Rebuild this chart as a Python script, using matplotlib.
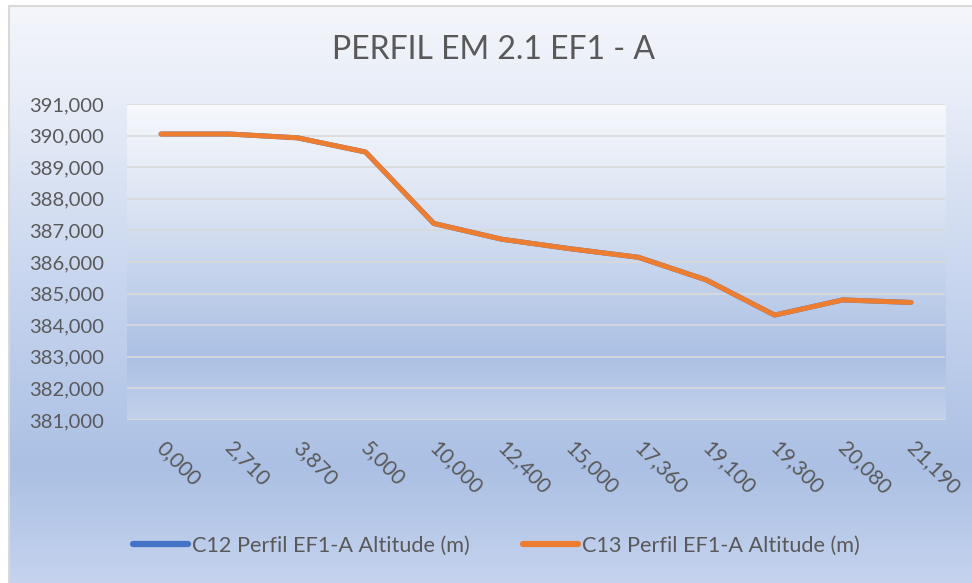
import matplotlib
matplotlib.use("Agg")
import matplotlib.pyplot as plt
import matplotlib.transforms as mtransforms
import numpy as np
from matplotlib.colors import to_rgb
from matplotlib.lines import Line2D

# distance labels along the profile (km, decimal comma) and altitudes (m)
distances = ["0,000", "2,710", "3,870", "5,000", "10,000", "12,400",
             "15,000", "17,360", "19,100", "19,300", "20,080", "21,190"]
alt_c12 = [390.05, 390.05, 389.93, 389.48, 387.22, 386.72,
           386.42, 386.15, 385.43, 384.32, 384.80, 384.72]
alt_c13 = [390.05, 390.05, 389.93, 389.48, 387.22, 386.72,
           386.42, 386.15, 385.43, 384.32, 384.80, 384.72]
y_ticks = [381, 382, 383, 384, 385, 386, 387, 388, 389, 390, 391]

TITLE = "PERFIL EM 2.1 EF1 - A"
LABEL_C12 = "C12 Perfil EF1-A Altitude (m)"
LABEL_C13 = "C13 Perfil EF1-A Altitude (m)"

BLUE = "#4472C4"
ORANGE = "#ED7D31"
TEXT = "#595959"
GRID = "#D9D9D9"

plt.rcParams["font.family"] = ["Lato", "DejaVu Sans"]

W, H = 972, 583


def gradient(stops, n=400):
    """Vertical gradient image (top -> bottom) from (pos, colour) stops."""
    pos = np.array([p for p, _ in stops])
    cols = np.array([to_rgb(c) for _, c in stops])
    t = np.linspace(0, 1, n)
    img = np.stack([np.interp(t, pos, cols[:, k]) for k in range(3)], axis=-1)
    return img[:, None, :]


fig = plt.figure(figsize=(W / 100, H / 100), dpi=100, facecolor="white")

# chart area background with gradient and thin border
bg = fig.add_axes([0, 0, 1, 1], zorder=0)
bg.axis("off")
outer = gradient([(0.0, "#F4F6FB"), (0.18, "#E6ECF7"), (0.5, "#C6D4EE"),
                  (0.8, "#ABC0E4"), (1.0, "#C5D3EE")])
bg.imshow(outer, extent=(8.5, W, H, 5.5), aspect="auto", interpolation="bilinear")
bg.plot([8.5, 8.5, W], [H, 5.5, 5.5], color=GRID, lw=1.5)
bg.set_xlim(0, W)
bg.set_ylim(H, 0)

ax = fig.add_axes([127 / W, 1 - 420 / H, (945 - 127) / W, (420 - 104) / H], zorder=1)
ax.set_facecolor("none")
inner = gradient([(0.0, "#F6F8FC"), (0.25, "#E2E9F5"), (0.8, "#ABC0E4"),
                  (1.0, "#C3D1EB")])
ax.imshow(inner, extent=(0, 1, 0, 1), transform=ax.transAxes, aspect="auto",
          interpolation="bilinear", zorder=0)

x = np.arange(len(distances))
ax.plot(x, alt_c12, color=BLUE, lw=3.6, solid_capstyle="round", zorder=3)
ax.plot(x, alt_c13, color=ORANGE, lw=3.6, solid_capstyle="round", zorder=4)

ax.set_xlim(-0.5, len(distances) - 0.5)
ax.set_ylim(y_ticks[0], y_ticks[-1])
ax.set_yticks(y_ticks)
ax.set_yticklabels([f"{v:.3f}".replace(".", ",") for v in y_ticks])
ax.yaxis.grid(True, color=GRID, lw=1.2)
for gl in ax.get_ygridlines():
    gl.set_zorder(1)

# category labels drawn by hand so they can sit a bit right of the tick
ax.set_xticks(x)
ax.set_xticklabels([])
lab_tr = mtransforms.offset_copy(ax.get_xaxis_transform(), fig=fig,
                                 x=6, y=-18, units="dots")
for xi, lab in zip(x, distances):
    ax.text(xi, 0, lab, transform=lab_tr, rotation=-45, ha="left", va="top",
            rotation_mode="anchor", fontsize=15, color=TEXT)

ax.tick_params(axis="both", length=0, colors=TEXT)
ax.tick_params(axis="y", pad=16.5, labelsize=14.5)
for s in ax.spines.values():
    s.set_visible(False)

fig.text(494 / W, 1 - 50 / H, TITLE, ha="center", va="center",
         fontsize=23, color=TEXT)

handles = [Line2D([], [], color=BLUE, lw=4.5, solid_capstyle="round"),
           Line2D([], [], color=ORANGE, lw=4.5, solid_capstyle="round")]
fig.legend(handles, [LABEL_C12, LABEL_C13], loc="center",
           bbox_to_anchor=(496 / W, 1 - 546 / H), ncol=2, frameon=False,
           fontsize=15.6, labelcolor=TEXT, handlelength=2.55,
           handletextpad=0.18, columnspacing=2.45)

fig.savefig("out.png", dpi=100, facecolor="white")
